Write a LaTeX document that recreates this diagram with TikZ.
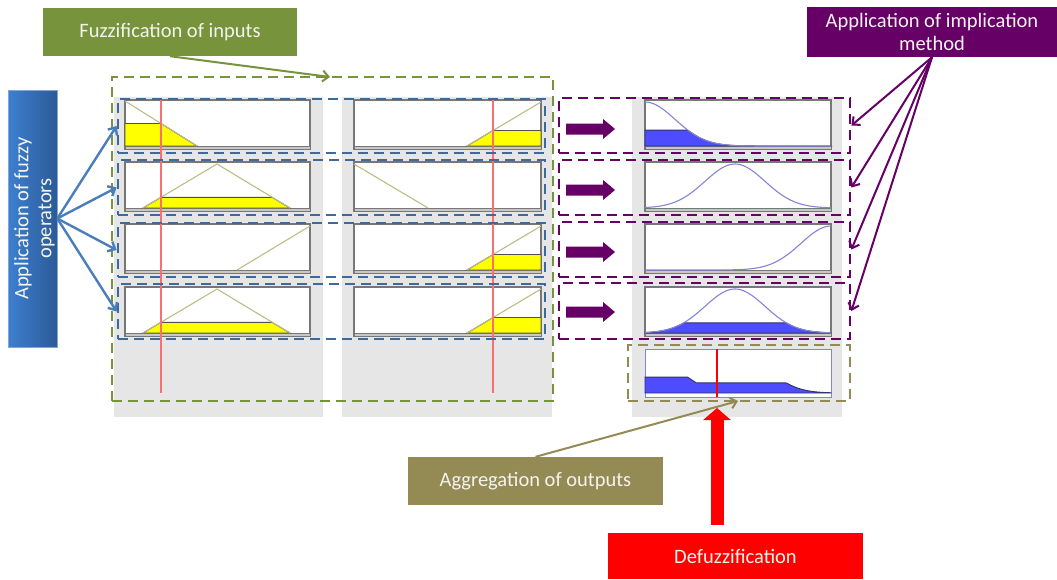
\documentclass[tikz,border=0pt]{standalone}
\usepackage{fontspec}
\setmainfont{Carlito}
\usetikzlibrary{arrows.meta,fit}

\definecolor{fuzgreen}{HTML}{77933C}
\definecolor{opsleft}{HTML}{3D7FD0}
\definecolor{opsright}{HTML}{2C5A97}
\definecolor{opsedge}{HTML}{7FA6D6}
\definecolor{arrblue}{HTML}{4A7EBB}
\definecolor{dashblue}{HTML}{3C6A9F}
\definecolor{implpurple}{HTML}{660066}
\definecolor{aggolive}{HTML}{948A54}
\definecolor{panelgray}{HTML}{E6E6E6}
\definecolor{boxgray}{HTML}{777777}
\definecolor{bandgray}{HTML}{C8C8C8}
\definecolor{mfline}{HTML}{BDBD85}
\definecolor{mffill}{HTML}{FFFF00}
\definecolor{mfedge}{HTML}{505050}
\definecolor{outcurve}{HTML}{8484D8}
\definecolor{outfill}{HTML}{4D4DFF}
\definecolor{outedge}{HTML}{333366}
\definecolor{aggedge}{HTML}{7F7FFF}
\definecolor{inputred}{RGB}{255,110,110}
\definecolor{labtext}{HTML}{F4F4EE}

% Gaussian membership function with sigma 30, centred at #1
\newcommand\gss[1]{exp(-((\x-#1)/30)*((\x-#1)/30)/2)}

\begin{document}
\begin{tikzpicture}[x=1pt,y=-1pt,
  lab/.style={inner sep=0pt, align=center, text=labtext, font=\fontsize{20.5}{23}\selectfont},
  panel/.style={fill=panelgray},
  plotbox/.style={fill=white, draw=boxgray, line width=1.3},
  baseband/.style={fill=bandgray, draw=boxgray, line width=0.8},
  mf/.style={draw=mfline, line width=1.1},
  mfcut/.style={fill=mffill, draw=mfedge, line width=0.9},
  outmf/.style={draw=outcurve, line width=1.1},
  outcut/.style={fill=outfill, draw=outedge, line width=0.9},
  dashbox/.style={line width=2.8, dash pattern=on 10pt off 6pt, inner sep=0pt},
  bluedash/.style={dashbox, draw=dashblue},
  purpdash/.style={dashbox, draw=implpurple},
  barb/.style={-{Straight Barb[length=6pt,width=11pt]}},
]
\useasboundingbox (0,0) rectangle (1057,579);

% grey panels behind the plot columns
\fill[panel] (114,97) rectangle (323,417);
\fill[panel] (342,97) rectangle (552,417);
\fill[panel] (632,97) rectangle (842,417);

% plot frames with their base bands
\foreach \T in {100,162,224,287}
  \foreach \a/\b in {125/310,354/541,645/831} {
    \filldraw[plotbox] (\a,\T) rectangle (\b,\T+49);
    \filldraw[baseband] (\a,\T+46) rectangle (\b,\T+49);
  }

% input 1 membership functions
\filldraw[mfcut] (125,146) -- (125,123.5) -- (161,123.5) -- (197,146) -- cycle;
\draw[mf] (125,101) -- (197,146);
\filldraw[mfcut] (143,208) -- (161,197.3) -- (272,197.3) -- (290,208) -- cycle;
\draw[mf] (143,208) -- (217,164) -- (290,208);
\draw[mf] (237,270) -- (310,226);
\filldraw[mfcut] (143,333) -- (161,322.3) -- (272,322.3) -- (290,333) -- cycle;
\draw[mf] (143,333) -- (217,289) -- (290,333);

% input 2 membership functions
\filldraw[mfcut] (467,146) -- (493,130.5) -- (541,130.5) -- (541,146) -- cycle;
\draw[mf] (467,146) -- (541,102);
\draw[mf] (354,164) -- (428,208);
\filldraw[mfcut] (467,270) -- (493,254.5) -- (541,254.5) -- (541,270) -- cycle;
\draw[mf] (467,270) -- (541,226);
\filldraw[mfcut] (467,333) -- (493,317.5) -- (541,317.5) -- (541,333) -- cycle;
\draw[mf] (467,333) -- (541,289);

% output membership functions, truncated by the rule strength
\filldraw[outcut] (645,146) -- plot[domain=645:831,samples=90] (\x,{146-44*min(\gss{645},0.36)}) -- (831,146) -- cycle;
\draw[outmf] plot[domain=645:831,samples=90] (\x,{146-44*\gss{645}});
\draw[outmf] plot[domain=645:831,samples=90] (\x,{208-44*\gss{735}});
\draw[outmf] plot[domain=645:831,samples=90] (\x,{270-44*\gss{831}});
\filldraw[outcut] (645,333) -- plot[domain=645:831,samples=90] (\x,{333-44*min(\gss{735},0.23)}) -- (831,333) -- cycle;
\draw[outmf] plot[domain=645:831,samples=90] (\x,{333-44*\gss{735}});

% aggregated output and crisp value
\node[fit={(645,349)(831,397)}, inner sep=0pt, draw=aggedge, fill=white, line width=1] (aggplot) {};
\filldraw[outcut] (645,393) -- plot[domain=645:831,samples=110] (\x,{393-44*max(min(\gss{645},0.36),min(\gss{735},0.23))}) -- (831,393) -- cycle;
\coordinate (crisptop) at (717,349);
\coordinate (crisp) at (717,397);
\draw[red, line width=2] (crisptop) -- (crisp);

% input values
\draw[draw=inputred, line width=1.3] (161,100) -- (161,393);
\draw[draw=inputred, line width=1.3] (493,100) -- (493,393);

% dashed groupings
\node[dashbox, draw=fuzgreen, fit={(112,77)(553,401)}] (inputs) {};
\node[bluedash, fit={(118,99)(545,153)}] (brow1) {};
\node[bluedash, fit={(118,160)(545,215)}] (brow2) {};
\node[bluedash, fit={(118,223)(545,277)}] (brow3) {};
\node[bluedash, fit={(118,284)(545,339)}] (brow4) {};
\node[purpdash, fit={(559,98)(850,153)}] (prow1) {};
\node[purpdash, fit={(559,160)(850,215)}] (prow2) {};
\node[purpdash, fit={(559,222)(850,277)}] (prow3) {};
\node[purpdash, fit={(559,283)(850,339)}] (prow4) {};
\node[dashbox, draw=aggolive, fit={(628,345)(850,401)}] (aggbox) {};

% implication block arrows
\foreach \cy in {129,190,252,312}
  \fill[implpurple] (566,\cy-5.5) -- (603,\cy-5.5) -- (603,\cy-10) -- (615,\cy)
    -- (603,\cy+10) -- (603,\cy+5.5) -- (566,\cy+5.5) -- cycle;

% step labels
\node[lab, fill=fuzgreen, minimum width=254, minimum height=48] (fuzz) at (170,32) {Fuzzification of inputs};
\node[draw=opsedge, line width=0.6, left color=opsleft, right color=opsright,
      minimum width=49, minimum height=257, inner sep=0pt] (ops) at (32.5,218.5) {};
\node[lab, rotate=90] (opstext) at ([xshift=2pt]ops.center) {Application of fuzzy\\operators};
\node[lab, fill=implpurple, minimum width=250, minimum height=50] (impl) at (932,32) {Application of implication\\method};
\node[lab, fill=aggolive, minimum width=255, minimum height=48] (agg) at (535.5,481) {Aggregation of outputs};
\node[lab, fill=red, minimum width=255, minimum height=46] (defuz) at (735.5,556) {Defuzzification};

% connectors
\coordinate (fuzztip) at (330,77);
\draw[fuzgreen, line width=2, barb] (fuzz.south) -- (fuzztip);
\foreach \r in {1,...,4}
  \draw[arrblue, line width=2.4, barb] (ops.east) -- (brow\r.west);
\foreach \r in {1,...,4}
  \draw[implpurple, line width=2, barb] (impl.south) -- (prow\r.east);
\coordinate (aggtip) at (738,401);
\draw[aggolive, line width=2, barb] (agg.north) -- (aggtip);
\path (defuz.north -| crisp) ++(0,-8) coordinate (redbase);
\draw[red, line width=13pt, -{Triangle[length=12pt,width=27pt]}] (redbase) -- ([yshift=-11pt]crisp);
\end{tikzpicture}
\end{document}
